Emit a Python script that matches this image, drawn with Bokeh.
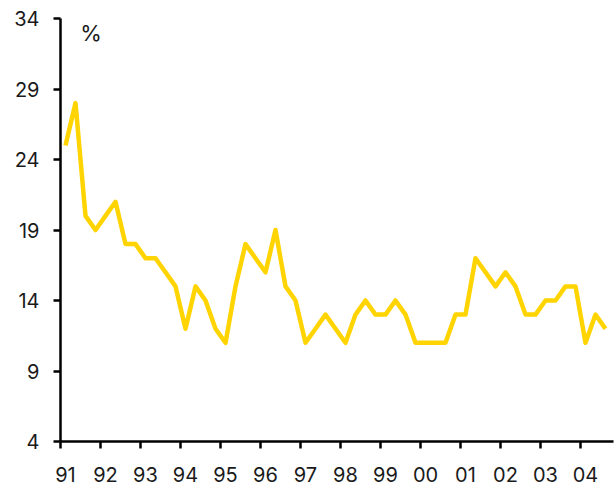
from bokeh.plotting import figure
from bokeh.models import FixedTicker, Range1d, Label
from bokeh.embed import file_html
from bokeh.resources import INLINE

years = ["91", "92", "93", "94", "95", "96", "97", "98", "99", "00", "01", "02", "03", "04"]
values = [25, 28, 20, 19,
          20, 21, 18, 18,
          17, 17, 16, 15,
          12, 15, 14, 12,
          11, 15, 18, 17,
          16, 19, 15, 14,
          11, 12, 13, 12,
          11, 13, 14, 13,
          13, 14, 13, 11,
          11, 11, 11, 13,
          13, 17, 16, 15,
          16, 15, 13, 13,
          14, 14, 15, 15,
          11, 13, 12]
y_ticks = [4, 9, 14, 19, 24, 29, 34]
unit = "%"

xs = list(range(len(values)))
label_pos = [4 * i for i in range(len(years))]
bound_pos = [4 * i - 0.5 for i in range(len(years))]

FONT = "Inter"
p = figure(width=614, height=487, output_backend="svg", toolbar_location=None,
           x_range=Range1d(-0.5, 54.8), y_range=Range1d(4, 34),
           min_border_left=60, min_border_right=1, min_border_top=18, min_border_bottom=46)
p.outline_line_color = None
p.grid.visible = False
p.background_fill_color = "white"

p.line(xs, values, line_color="#FFD400", line_width=4.5, line_join="round")

xt = FixedTicker(ticks=label_pos, minor_ticks=bound_pos)
p.xaxis.ticker = xt
p.xaxis.major_label_overrides = {pos: lab for pos, lab in zip(label_pos, years)}
p.xaxis.major_tick_line_color = None
p.xaxis.minor_tick_line_color = "black"
p.xaxis.minor_tick_line_width = 2.5
p.xaxis.minor_tick_out = 7
p.xaxis.minor_tick_in = 0
p.xaxis.major_label_standoff = 18

p.yaxis.ticker = FixedTicker(ticks=y_ticks, minor_ticks=[])
p.yaxis.major_tick_line_width = 2.5
p.yaxis.major_tick_out = 7
p.yaxis.major_tick_in = 0
p.yaxis.major_label_standoff = 14

for ax in (p.xaxis, p.yaxis):
    ax.axis_line_width = 2.5
    ax.axis_line_color = "black"
    ax.major_label_text_font = FONT
    ax.major_label_text_font_size = "20px"
    ax.major_label_text_color = "#1a1a1a"

p.add_layout(Label(x=1.47, y=33.0, text=unit, text_font=FONT, text_font_size="22px",
                   text_color="#1a1a1a", text_baseline="middle", text_align="left"))

open("out.html", "w").write(file_html(p, INLINE))
